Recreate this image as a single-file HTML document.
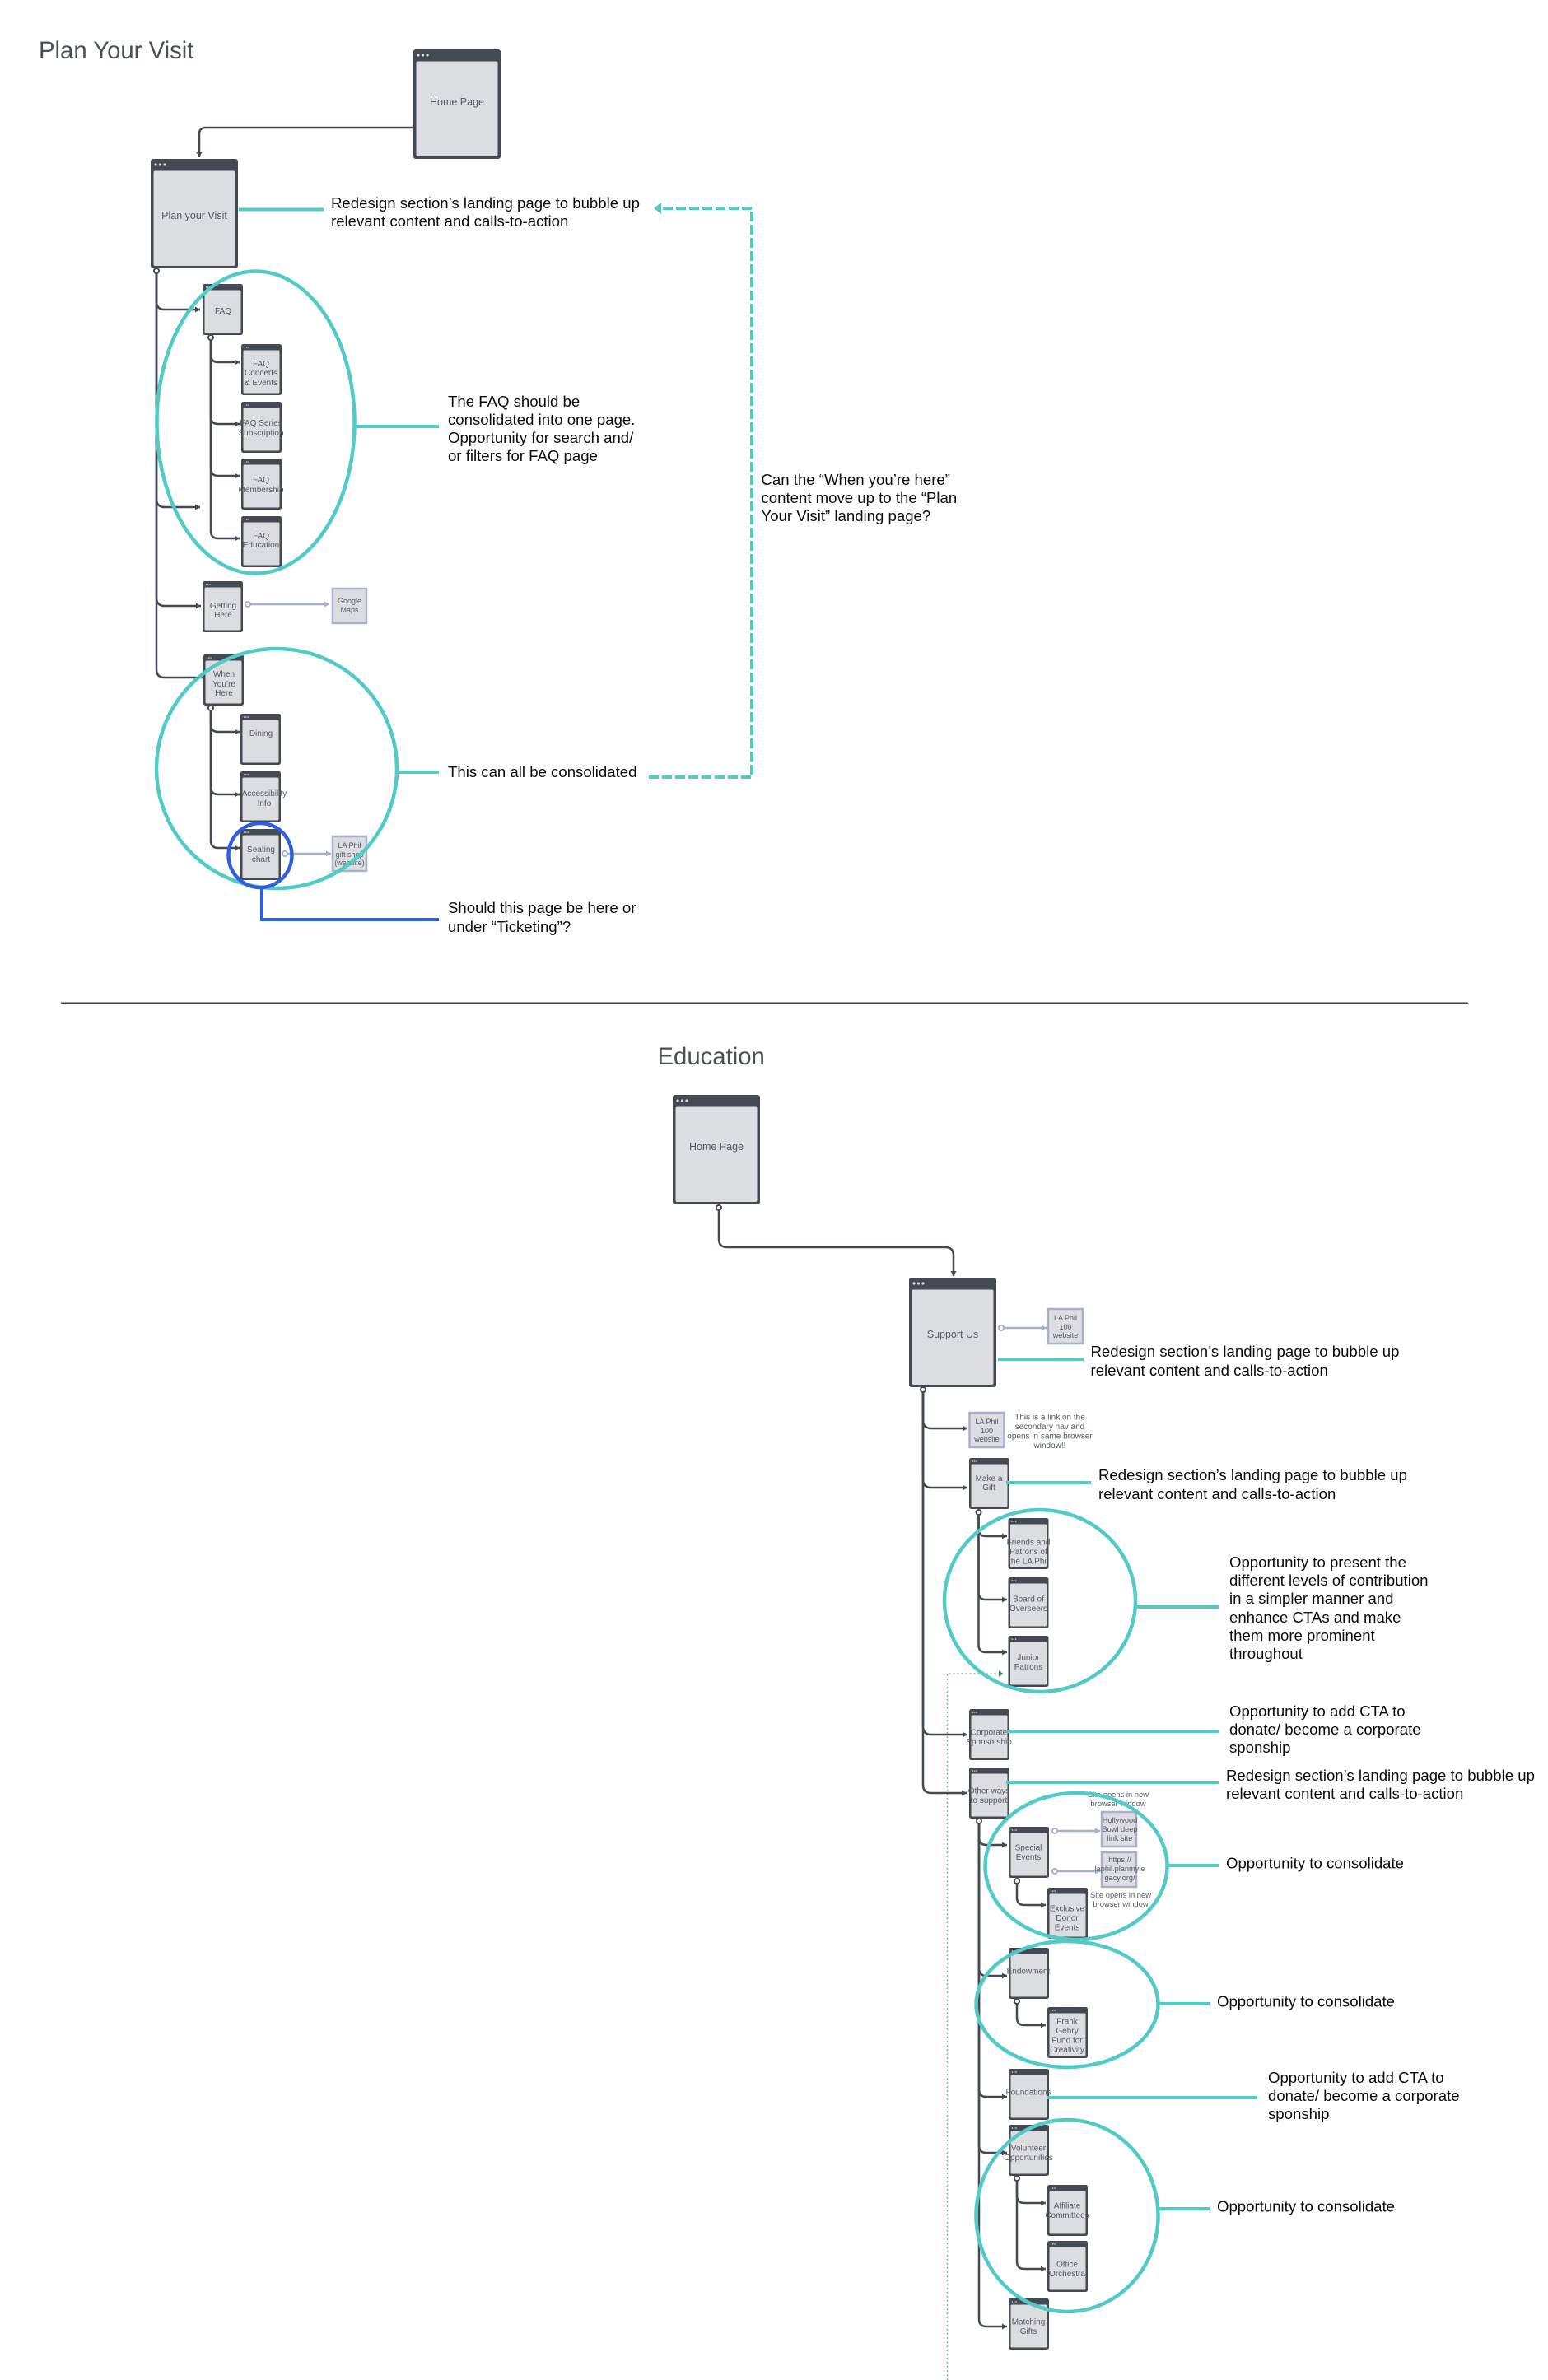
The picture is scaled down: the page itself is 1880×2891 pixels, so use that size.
<!DOCTYPE html>
<html lang="en"><head><meta charset="utf-8"><title>Plan Your Visit and Education site map</title>
<style>
html,body{margin:0;padding:0;background:#fff}
svg{display:block}
text{font-family:"Liberation Sans",sans-serif}
.n{font-size:10px;fill:#565b65;text-anchor:middle}
.b{font-size:12.5px;fill:#565b65;text-anchor:middle}
.l{font-size:9px;fill:#565b65;text-anchor:middle}
.t{font-size:18.6px;fill:#0c0c0c}
.h{font-size:29.3px;fill:#4a505a}
.c{fill:none;stroke:#434a54;stroke-width:2.5}
.k{fill:none;stroke:#a6b1cc;stroke-width:2.5}
.o{fill:#fff;stroke:#434a54;stroke-width:2}
.p{fill:#fff;stroke:#a6b1cc;stroke-width:2}
.e{fill:none;stroke:#52cac6;stroke-width:4.5}
.m{stroke:#52cac6;stroke-width:4;fill:none}
.x{fill:#dcdde1;stroke:#a6b1cc;stroke-width:2.5}
</style></head><body>
<svg width="1880" height="2891" viewBox="0 0 1880 2891" xmlns="http://www.w3.org/2000/svg">
<defs>
<marker id="a" markerUnits="userSpaceOnUse" markerWidth="8" markerHeight="8" refX="6" refY="4" orient="auto"><path d="M0 .5L6 4L0 7.5z" fill="#434a54"/></marker>
<marker id="v" markerUnits="userSpaceOnUse" markerWidth="8" markerHeight="8" refX="6" refY="4" orient="auto"><path d="M0 .5L6 4L0 7.5z" fill="#a6b1cc"/></marker>
<marker id="g" markerUnits="userSpaceOnUse" markerWidth="8" markerHeight="10" refX="5" refY="5" orient="auto"><path d="M0 1L5 5L0 9z" fill="#2f9e44"/></marker>
<g id="S"><rect width="49" height="62" rx="2.5" fill="#434a54"/><rect x="2.5" y="7.5" width="44" height="52" rx="1.5" fill="#dcdde1"/><circle cx="4.5" cy="4" r=".8" fill="#dcdde1"/><circle cx="6.8" cy="4" r=".8" fill="#dcdde1"/><circle cx="9.1" cy="4" r=".8" fill="#dcdde1"/></g>
<g id="B"><rect width="106" height="133" rx="3" fill="#434a54"/><rect x="3.5" y="14.5" width="99" height="115.500" rx="2" fill="#dcdde1"/><circle cx="6" cy="7" r="1.600" fill="#dcdde1"/><circle cx="11.500" cy="7" r="1.600" fill="#dcdde1"/><circle cx="17" cy="7" r="1.600" fill="#dcdde1"/></g>
</defs>

<!-- Plan Your Visit -->
<text class="h" x="47" y="71">Plan Your Visit</text>

<path class="c" marker-end="url(#a)" d="M502 155H250Q242 155 242 163V191"/>
<path class="c" marker-end="url(#a)" d="M190 330V366Q190 376 200 376H243"/>
<path class="c" marker-end="url(#a)" d="M190 330V606Q190 616 200 616H243"/>
<path class="c" marker-end="url(#a)" d="M190 330V726Q190 736 200 736H244"/>
<path class="c" d="M190 330V813Q190 823 200 823H248"/>
<path class="c" marker-end="url(#a)" d="M256 411V431Q256 440 265 440H291"/>
<path class="c" marker-end="url(#a)" d="M256 411V506Q256 515 265 515H291"/>
<path class="c" marker-end="url(#a)" d="M256 411V569Q256 578 265 578H291"/>
<path class="c" marker-end="url(#a)" d="M256 411V645Q256 654 265 654H291"/>
<path class="c" marker-end="url(#a)" d="M256 861V880Q256 889 265 889H291"/>
<path class="c" marker-end="url(#a)" d="M256 861V956Q256 965 265 965H291"/>
<path class="c" marker-end="url(#a)" d="M256 861V1021Q256 1030 265 1030H291"/>
<path class="k" marker-end="url(#v)" d="M304 734H400"/>
<path class="k" marker-end="url(#v)" d="M349 1037H402"/>

<use href="#B" x="502" y="60"/><text class="b" x="555" y="128">Home Page</text>
<use href="#B" x="183" y="193"/><text class="b" x="236" y="266">Plan your Visit</text>
<circle class="o" cx="190" cy="329" r="3"/>

<use href="#S" x="246" y="345"/><text class="n" x="271" y="381">FAQ</text>
<circle class="o" cx="256" cy="410" r="3"/>
<use href="#S" x="293" y="418"/><text class="n" x="317" y="445">FAQ</text><text class="n" x="317" y="456">Concerts</text><text class="n" x="317" y="468">&amp; Events</text>
<use href="#S" x="293" y="488"/><text class="n" x="317" y="517">FAQ Series</text><text class="n" x="317" y="529">Subscription</text>
<use href="#S" x="293" y="557"/><text class="n" x="317" y="586">FAQ</text><text class="n" x="317" y="598">Membership</text>
<use href="#S" x="293" y="627"/><text class="n" x="317" y="654">FAQ</text><text class="n" x="317" y="665">Education</text>

<use href="#S" x="246" y="706"/><text class="n" x="271" y="739">Getting</text><text class="n" x="271" y="750">Here</text>
<circle class="p" cx="301" cy="734" r="3"/>
<rect class="x" x="404" y="715" width="41" height="42"/><text class="l" x="424.500" y="733">Google</text><text class="l" x="424.500" y="744">Maps</text>

<use href="#S" x="247" y="795"/><text class="n" x="272" y="822">When</text><text class="n" x="272" y="834">You’re</text><text class="n" x="272" y="845">Here</text>
<circle class="o" cx="256" cy="860" r="3"/>
<use href="#S" x="292" y="867"/><text class="n" x="317" y="894">Dining</text>
<use href="#S" x="292" y="937"/><text class="n" x="321" y="967">Accessibility</text><text class="n" x="321" y="979">Info</text>
<use href="#S" x="292" y="1007"/><text class="n" x="317" y="1035">Seating</text><text class="n" x="317" y="1047">chart</text>
<circle class="p" cx="346" cy="1037" r="3"/>
<rect class="x" x="404" y="1016" width="41" height="42"/><text class="l" x="424.500" y="1030">LA Phil</text><text class="l" x="424.500" y="1041">gift shop</text><text class="l" x="424.500" y="1051">(website)</text>

<ellipse class="e" cx="310.500" cy="513" rx="120" ry="183.500"/>
<ellipse class="e" cx="336" cy="933.500" rx="146" ry="145.500"/>
<ellipse cx="316" cy="1039" rx="38.500" ry="39" fill="none" stroke="#2f5fdd" stroke-width="4.500"/>
<path d="M318 1078V1117H533" fill="none" stroke="#2f5fdd" stroke-width="4"/>

<path class="m" d="M290 254.500H394M431 518H533M482 938H533"/>
<path class="m" stroke-dasharray="12 4" d="M788 944H913V253H803"/>
<path d="M803 246L794 253L803 260z" fill="#52cac6"/>

<text class="t" x="402" y="253">Redesign section’s landing page to bubble up</text>
<text class="t" x="402" y="275">relevant content and calls-to-action</text>
<text class="t" x="544" y="494">The FAQ should be</text>
<text class="t" x="544" y="516">consolidated into one page.</text>
<text class="t" x="544" y="538">Opportunity for search and/</text>
<text class="t" x="544" y="560">or filters for FAQ page</text>
<text class="t" x="924.500" y="589">Can the “When you’re here”</text>
<text class="t" x="924.500" y="611">content move up to the “Plan</text>
<text class="t" x="924.500" y="633">Your Visit” landing page?</text>
<text class="t" x="544" y="944">This can all be consolidated</text>
<text class="t" x="544" y="1109">Should this page be here or</text>
<text class="t" x="544" y="1132">under “Ticketing”?</text>

<rect x="74" y="1217.500" width="1709" height="1.500" fill="#444"/>

<!-- Education -->
<text class="h" x="798.500" y="1293">Education</text>

<path d="M1150.500 2891V2033H1218" fill="none" stroke="#7cc09a" stroke-width="1.500" stroke-dasharray="2 3" marker-end="url(#g)"/>
<path class="c" marker-end="url(#a)" d="M873 1469V1505Q873 1515 883 1515H1148Q1158 1515 1158 1525V1550"/>
<path class="c" marker-end="url(#a)" d="M1121 1690V1725Q1121 1735 1131 1735H1175"/>
<path class="c" marker-end="url(#a)" d="M1121 1690V1797Q1121 1807 1131 1807H1175"/>
<path class="c" marker-end="url(#a)" d="M1121 1690V2097Q1121 2107 1131 2107H1175"/>
<path class="c" marker-end="url(#a)" d="M1121 1690V2168Q1121 2178 1131 2178H1174"/>
<path class="c" marker-end="url(#a)" d="M1188.500 1839V1857Q1188.500 1866 1197 1866H1223"/>
<path class="c" marker-end="url(#a)" d="M1188.500 1839V1934Q1188.500 1943 1197 1943H1223"/>
<path class="c" marker-end="url(#a)" d="M1188.500 1839V1998Q1188.500 2007 1197 2007H1223"/>
<path class="c" marker-end="url(#a)" d="M1189 2214V2232Q1189 2241 1198 2241H1223"/>
<path class="c" marker-end="url(#a)" d="M1189 2214V2391Q1189 2400 1198 2400H1223"/>
<path class="c" marker-end="url(#a)" d="M1189 2214V2538Q1189 2547 1198 2547H1223"/>
<path class="c" marker-end="url(#a)" d="M1189 2214V2606Q1189 2615 1198 2615H1223"/>
<path class="c" marker-end="url(#a)" d="M1189 2214V2817Q1189 2826 1198 2826H1223"/>
<path class="c" marker-end="url(#a)" d="M1235 2287V2305Q1235 2314 1244 2314H1270"/>
<path class="c" marker-end="url(#a)" d="M1235 2433V2451Q1235 2460 1244 2460H1270"/>
<path class="c" marker-end="url(#a)" d="M1235 2648V2667Q1235 2676 1244 2676H1270"/>
<path class="c" marker-end="url(#a)" d="M1235 2648V2747Q1235 2756 1244 2756H1270"/>
<path class="k" marker-end="url(#v)" d="M1219 1613H1271"/>
<path class="k" marker-end="url(#v)" d="M1284 2224H1336"/>
<path class="k" marker-end="url(#v)" d="M1284 2273H1336"/>

<use href="#B" x="817" y="1330"/><text class="b" x="870" y="1397">Home Page</text>
<circle class="o" cx="873" cy="1467" r="3"/>
<use href="#B" x="1104" y="1552"/><text class="b" x="1157" y="1625">Support Us</text>
<circle class="o" cx="1121" cy="1688" r="3"/>
<circle class="p" cx="1216" cy="1613" r="3"/>
<rect class="x" x="1273" y="1590" width="42" height="42"/><text class="l" x="1294" y="1604">LA Phil</text><text class="l" x="1294" y="1615">100</text><text class="l" x="1294" y="1625">website</text>
<rect class="x" x="1177.500" y="1716" width="42" height="42"/><text class="l" x="1198.500" y="1730">LA Phil</text><text class="l" x="1198.500" y="1741">100</text><text class="l" x="1198.500" y="1751">website</text>
<text class="l" x="1275" y="1724.500" style="font-size:10px">This is a link on the</text><text class="l" x="1275" y="1736" style="font-size:10px">secondary nav and</text><text class="l" x="1275" y="1747.500" style="font-size:10px">opens in same browser</text><text class="l" x="1275" y="1759" style="font-size:10px">window!!</text>

<use href="#S" x="1177" y="1771"/><text class="n" x="1201" y="1799">Make a</text><text class="n" x="1201" y="1810">Gift</text>
<circle class="o" cx="1188.500" cy="1837" r="3"/>
<use href="#S" x="1224.500" y="1844"/><text class="n" x="1249" y="1876.500">Friends and</text><text class="n" x="1249" y="1888">Patrons of</text><text class="n" x="1249" y="1899.500">the LA Phil</text>
<use href="#S" x="1224.500" y="1916"/><text class="n" x="1249" y="1945.500">Board of</text><text class="n" x="1249" y="1957">Overseers</text>
<use href="#S" x="1224.500" y="1987"/><text class="n" x="1249" y="2016.500">Junior</text><text class="n" x="1249" y="2028">Patrons</text>
<use href="#S" x="1177" y="2076"/><text class="n" x="1201" y="2107.500">Corporate</text><text class="n" x="1201" y="2119">Sponsorship</text>
<use href="#S" x="1177" y="2147"/><text class="n" x="1201" y="2178.500">Other ways</text><text class="n" x="1201" y="2190">to support</text>
<circle class="o" cx="1189" cy="2212" r="3"/>

<use href="#S" x="1225" y="2219"/><text class="n" x="1249" y="2247.500">Special</text><text class="n" x="1249" y="2259">Events</text>
<circle class="o" cx="1235" cy="2285" r="3"/>
<circle class="p" cx="1281" cy="2224" r="3"/>
<circle class="p" cx="1281" cy="2273" r="3"/>
<rect class="x" x="1338" y="2201" width="42" height="42"/><text class="l" x="1360" y="2214" style="font-size:9.200px">Hollywood</text><text class="l" x="1360" y="2225" style="font-size:9.200px">Bowl deep</text><text class="l" x="1360" y="2236" style="font-size:9.200px">link site</text>
<rect class="x" x="1338" y="2250" width="42" height="42"/><text class="l" x="1360" y="2262" style="font-size:9.200px">https://</text><text class="l" x="1360" y="2273" style="font-size:9.200px">laphil.planmyle</text><text class="l" x="1360" y="2284" style="font-size:9.200px">gacy.org/</text>
<text class="l" x="1358" y="2183" style="font-size:9.400px">Site opens in new</text><text class="l" x="1358" y="2194" style="font-size:9.400px">browser window</text>
<text class="l" x="1361" y="2305" style="font-size:9.400px">Site opens in new</text><text class="l" x="1361" y="2316" style="font-size:9.400px">browser window</text>
<use href="#S" x="1272" y="2293"/><text class="n" x="1296" y="2321.500">Exclusive</text><text class="n" x="1296" y="2333">Donor</text><text class="n" x="1296" y="2344.500">Events</text>

<use href="#S" x="1225" y="2366"/><text class="n" x="1249" y="2397.500">Endowment</text>
<circle class="o" cx="1235" cy="2431" r="3"/>
<use href="#S" x="1272" y="2438"/><text class="n" x="1296" y="2458.500">Frank</text><text class="n" x="1296" y="2470">Gehry</text><text class="n" x="1296" y="2481.500">Fund for</text><text class="n" x="1296" y="2493">Creativity</text>

<use href="#S" x="1225" y="2513"/><text class="n" x="1249" y="2544.500">Foundations</text>
<use href="#S" x="1225" y="2581"/><text class="n" x="1249" y="2612.500">Volunteer</text><text class="n" x="1249" y="2624">Opportunities</text>
<circle class="o" cx="1235" cy="2646" r="3"/>
<use href="#S" x="1272" y="2654"/><text class="n" x="1296" y="2682.500">Affiliate</text><text class="n" x="1296" y="2694">Committees</text>
<use href="#S" x="1272" y="2722"/><text class="n" x="1296" y="2753.500">Office</text><text class="n" x="1296" y="2765">Orchestra</text>
<use href="#S" x="1225" y="2792"/><text class="n" x="1249" y="2823.500">Matching</text><text class="n" x="1249" y="2835">Gifts</text>

<ellipse class="e" cx="1263" cy="1944.500" rx="116" ry="110.500"/>
<ellipse class="e" cx="1307" cy="2267" rx="110.500" ry="89"/>
<ellipse class="e" cx="1296" cy="2434.500" rx="110.500" ry="76.500"/>
<ellipse class="e" cx="1296" cy="2691.500" rx="110.500" ry="116.500"/>

<path class="m" d="M1212 1651H1316M1222 1801H1325M1379 1952H1480M1224 2103H1480M1222 2165H1480M1418 2266H1480M1408 2434H1469M1272 2548H1527M1408 2683H1469"/>

<text class="t" x="1324.500" y="1648">Redesign section’s landing page to bubble up</text>
<text class="t" x="1324.500" y="1671">relevant content and calls-to-action</text>
<text class="t" x="1334" y="1798">Redesign section’s landing page to bubble up</text>
<text class="t" x="1334" y="1821">relevant content and calls-to-action</text>
<text class="t" x="1493" y="1904">Opportunity to present the</text>
<text class="t" x="1493" y="1926">different levels of contribution</text>
<text class="t" x="1493" y="1948">in a simpler manner and</text>
<text class="t" x="1493" y="1971">enhance CTAs and make</text>
<text class="t" x="1493" y="1993">them more prominent</text>
<text class="t" x="1493" y="2015">throughout</text>
<text class="t" x="1493" y="2085">Opportunity to add CTA to</text>
<text class="t" x="1493" y="2107">donate/ become a corporate</text>
<text class="t" x="1493" y="2129">sponship</text>
<text class="t" x="1489" y="2163">Redesign section’s landing page to bubble up</text>
<text class="t" x="1489" y="2185">relevant content and calls-to-action</text>
<text class="t" x="1489" y="2269.500">Opportunity to consolidate</text>
<text class="t" x="1478" y="2437.500">Opportunity to consolidate</text>
<text class="t" x="1540" y="2530">Opportunity to add CTA to</text>
<text class="t" x="1540" y="2552">donate/ become a corporate</text>
<text class="t" x="1540" y="2574">sponship</text>
<text class="t" x="1478" y="2686.500">Opportunity to consolidate</text>
</svg>
</body></html>
